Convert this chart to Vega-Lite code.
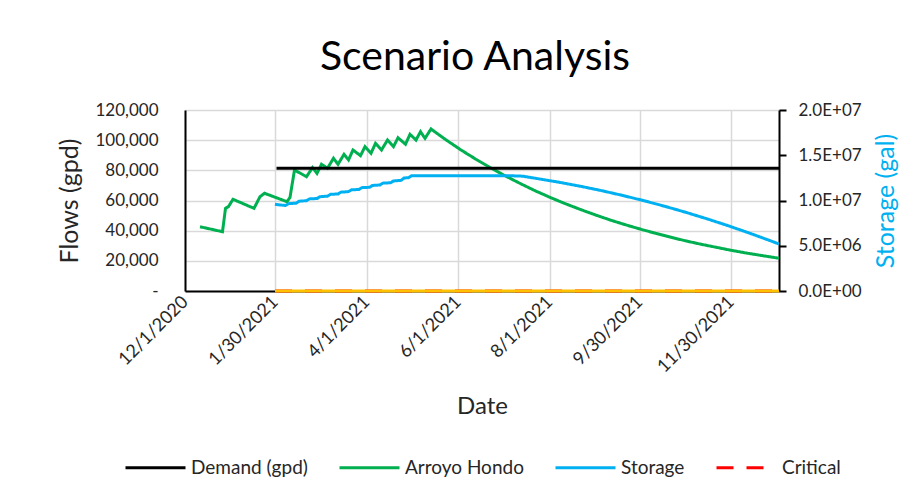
{
  "$schema": "https://vega.github.io/schema/vega-lite/v6.json",
  "autosize": "none",
  "width": 594,
  "height": 181,
  "padding": {"left": 185, "top": 110, "right": 134, "bottom": 204},
  "background": "white",
  "config": {
    "font": "Lato",
    "view": {"stroke": null},
    "axis": {"labelFont": "Lato", "titleFont": "Lato", "labelColor": "#262626", "titleColor": "#262626", "titleFontWeight": "normal", "labelFontSize": 17, "titleFontSize": 24},
    "legend": {"labelFont": "Lato"}
  },
  "title": {"text": "Scenario Analysis", "fontSize": 41, "fontWeight": "normal", "font": "Lato", "color": "#000000", "anchor": "middle", "offset": 22, "dx": -7},
  "datasets": {
    "series": [
      {"series": "Arroyo Hondo", "date": "2020-12-11", "value": 42600},
      {"series": "Arroyo Hondo", "date": "2020-12-26", "value": 39300},
      {"series": "Arroyo Hondo", "date": "2020-12-28", "value": 54800},
      {"series": "Arroyo Hondo", "date": "2020-12-30", "value": 56000},
      {"series": "Arroyo Hondo", "date": "2021-01-02", "value": 60800},
      {"series": "Arroyo Hondo", "date": "2021-01-16", "value": 54800},
      {"series": "Arroyo Hondo", "date": "2021-01-20", "value": 62500},
      {"series": "Arroyo Hondo", "date": "2021-01-23", "value": 64800},
      {"series": "Arroyo Hondo", "date": "2021-02-07", "value": 59200},
      {"series": "Arroyo Hondo", "date": "2021-02-09", "value": 62100},
      {"series": "Arroyo Hondo", "date": "2021-02-12", "value": 80200},
      {"series": "Arroyo Hondo", "date": "2021-02-20", "value": 75800},
      {"series": "Arroyo Hondo", "date": "2021-02-24", "value": 81800},
      {"series": "Arroyo Hondo", "date": "2021-02-27", "value": 78000},
      {"series": "Arroyo Hondo", "date": "2021-03-02", "value": 84000},
      {"series": "Arroyo Hondo", "date": "2021-03-06", "value": 81400},
      {"series": "Arroyo Hondo", "date": "2021-03-10", "value": 88000},
      {"series": "Arroyo Hondo", "date": "2021-03-13", "value": 84000},
      {"series": "Arroyo Hondo", "date": "2021-03-17", "value": 90600},
      {"series": "Arroyo Hondo", "date": "2021-03-20", "value": 86900},
      {"series": "Arroyo Hondo", "date": "2021-03-23", "value": 93500},
      {"series": "Arroyo Hondo", "date": "2021-03-28", "value": 89700},
      {"series": "Arroyo Hondo", "date": "2021-03-31", "value": 95700},
      {"series": "Arroyo Hondo", "date": "2021-04-04", "value": 91300},
      {"series": "Arroyo Hondo", "date": "2021-04-07", "value": 97900},
      {"series": "Arroyo Hondo", "date": "2021-04-11", "value": 93500},
      {"series": "Arroyo Hondo", "date": "2021-04-15", "value": 100100},
      {"series": "Arroyo Hondo", "date": "2021-04-19", "value": 95700},
      {"series": "Arroyo Hondo", "date": "2021-04-22", "value": 101600},
      {"series": "Arroyo Hondo", "date": "2021-04-27", "value": 97300},
      {"series": "Arroyo Hondo", "date": "2021-04-30", "value": 103900},
      {"series": "Arroyo Hondo", "date": "2021-05-04", "value": 100100},
      {"series": "Arroyo Hondo", "date": "2021-05-07", "value": 105600},
      {"series": "Arroyo Hondo", "date": "2021-05-10", "value": 101200},
      {"series": "Arroyo Hondo", "date": "2021-05-14", "value": 107400},
      {"series": "Arroyo Hondo", "date": "2021-05-24", "value": 100200},
      {"series": "Arroyo Hondo", "date": "2021-06-03", "value": 93500},
      {"series": "Arroyo Hondo", "date": "2021-06-13", "value": 87300},
      {"series": "Arroyo Hondo", "date": "2021-06-23", "value": 81500},
      {"series": "Arroyo Hondo", "date": "2021-07-03", "value": 76100},
      {"series": "Arroyo Hondo", "date": "2021-07-13", "value": 71000},
      {"series": "Arroyo Hondo", "date": "2021-07-23", "value": 66200},
      {"series": "Arroyo Hondo", "date": "2021-08-02", "value": 61800},
      {"series": "Arroyo Hondo", "date": "2021-08-12", "value": 57700},
      {"series": "Arroyo Hondo", "date": "2021-08-22", "value": 53900},
      {"series": "Arroyo Hondo", "date": "2021-09-01", "value": 50300},
      {"series": "Arroyo Hondo", "date": "2021-09-11", "value": 46900},
      {"series": "Arroyo Hondo", "date": "2021-09-21", "value": 43800},
      {"series": "Arroyo Hondo", "date": "2021-10-01", "value": 40900},
      {"series": "Arroyo Hondo", "date": "2021-10-11", "value": 38200},
      {"series": "Arroyo Hondo", "date": "2021-10-21", "value": 35600},
      {"series": "Arroyo Hondo", "date": "2021-10-31", "value": 33200},
      {"series": "Arroyo Hondo", "date": "2021-11-10", "value": 31000},
      {"series": "Arroyo Hondo", "date": "2021-11-20", "value": 29000},
      {"series": "Arroyo Hondo", "date": "2021-11-30", "value": 27000},
      {"series": "Arroyo Hondo", "date": "2021-12-10", "value": 25200},
      {"series": "Arroyo Hondo", "date": "2021-12-20", "value": 23600},
      {"series": "Arroyo Hondo", "date": "2022-01-01", "value": 21700},
      {"series": "Demand (gpd)", "date": "2021-01-31", "value": 81400},
      {"series": "Demand (gpd)", "date": "2022-01-01", "value": 81400},
      {"series": "Critical", "date": "2021-01-30", "value": 0},
      {"series": "Critical", "date": "2022-01-01", "value": 0}
    ],
    "storage": [
      {"series": "Storage", "date": "2021-01-30", "value": 9580000},
      {"series": "Storage", "date": "2021-02-03", "value": 9500000},
      {"series": "Storage", "date": "2021-02-06", "value": 9450000},
      {"series": "Storage", "date": "2021-02-08", "value": 9650000},
      {"series": "Storage", "date": "2021-02-13", "value": 9700000},
      {"series": "Storage", "date": "2021-02-15", "value": 9920000},
      {"series": "Storage", "date": "2021-02-20", "value": 9980000},
      {"series": "Storage", "date": "2021-02-22", "value": 10180000},
      {"series": "Storage", "date": "2021-02-27", "value": 10220000},
      {"series": "Storage", "date": "2021-03-01", "value": 10420000},
      {"series": "Storage", "date": "2021-03-06", "value": 10480000},
      {"series": "Storage", "date": "2021-03-08", "value": 10680000},
      {"series": "Storage", "date": "2021-03-13", "value": 10720000},
      {"series": "Storage", "date": "2021-03-15", "value": 10920000},
      {"series": "Storage", "date": "2021-03-20", "value": 10980000},
      {"series": "Storage", "date": "2021-03-22", "value": 11180000},
      {"series": "Storage", "date": "2021-03-27", "value": 11220000},
      {"series": "Storage", "date": "2021-03-29", "value": 11420000},
      {"series": "Storage", "date": "2021-04-03", "value": 11460000},
      {"series": "Storage", "date": "2021-04-05", "value": 11660000},
      {"series": "Storage", "date": "2021-04-10", "value": 11720000},
      {"series": "Storage", "date": "2021-04-12", "value": 11920000},
      {"series": "Storage", "date": "2021-04-17", "value": 11960000},
      {"series": "Storage", "date": "2021-04-19", "value": 12160000},
      {"series": "Storage", "date": "2021-04-24", "value": 12220000},
      {"series": "Storage", "date": "2021-04-26", "value": 12480000},
      {"series": "Storage", "date": "2021-04-29", "value": 12520000},
      {"series": "Storage", "date": "2021-05-01", "value": 12740000},
      {"series": "Storage", "date": "2021-07-05", "value": 12740000},
      {"series": "Storage", "date": "2021-07-14", "value": 12690000},
      {"series": "Storage", "date": "2021-07-25", "value": 12390000},
      {"series": "Storage", "date": "2021-08-08", "value": 12000000},
      {"series": "Storage", "date": "2021-08-22", "value": 11560000},
      {"series": "Storage", "date": "2021-09-05", "value": 11080000},
      {"series": "Storage", "date": "2021-09-19", "value": 10550000},
      {"series": "Storage", "date": "2021-10-03", "value": 9975000},
      {"series": "Storage", "date": "2021-10-17", "value": 9354000},
      {"series": "Storage", "date": "2021-10-31", "value": 8688000},
      {"series": "Storage", "date": "2021-11-14", "value": 7976000},
      {"series": "Storage", "date": "2021-11-28", "value": 7219000},
      {"series": "Storage", "date": "2021-12-12", "value": 6415000},
      {"series": "Storage", "date": "2021-12-26", "value": 5567000},
      {"series": "Storage", "date": "2022-01-01", "value": 5190000}
    ],
    "zero": [
      {"date": "2021-01-30", "value": 0},
      {"date": "2022-01-01", "value": 0}
    ]
  },
  "encoding": {
    "x": {
      "field": "date", "type": "temporal",
      "scale": {"type": "utc", "domain": [{"year": 2020, "month": 12, "date": 1, "utc": true}, {"year": 2022, "month": 1, "date": 1, "utc": true}]},
      "axis": {
        "title": "Date", "titleFontSize": 24, "titlePadding": 19,
        "format": "%-m/%-d/%Y", "labelAngle": -45, "labelAlign": "right", "labelBaseline": "middle", "labelPadding": 8, "labelFontSize": 18,
        "values": [
          {"year": 2020, "month": 12, "date": 1, "utc": true},
          {"year": 2021, "month": 1, "date": 30, "utc": true},
          {"year": 2021, "month": 4, "date": 1, "utc": true},
          {"year": 2021, "month": 6, "date": 1, "utc": true},
          {"year": 2021, "month": 8, "date": 1, "utc": true},
          {"year": 2021, "month": 9, "date": 30, "utc": true},
          {"year": 2021, "month": 11, "date": 30, "utc": true}
        ],
        "ticks": false, "grid": true, "gridColor": "#D9D9D9", "gridWidth": 1.5,
        "domainColor": "#000000", "domainWidth": 2, "labelOverlap": false, "labelFlush": false
      }
    }
  },
  "layer": [
    {
      "encoding": {
        "y": {
          "field": "value", "type": "quantitative",
          "scale": {"domain": [0, 120000], "nice": false},
          "axis": {
            "title": "Flows (gpd)", "titlePadding": 12, "orient": "left", "titleFontSize": 25,
            "values": [0, 20000, 40000, 60000, 80000, 100000, 120000],
            "labelExpr": "datum.value == 0 ? '-    ' : format(datum.value, ',')",
            "labelOverlap": false, "labelFlush": false,
            "ticks": false, "labelPadding": 27, "grid": true, "gridColor": "#D9D9D9", "gridWidth": 1.5,
            "domainColor": "#000000", "domainWidth": 2
          }
        }
      },
      "layer": [
        {
          "data": {"name": "series"},
          "mark": {"type": "line", "strokeWidth": 3},
          "encoding": {
            "color": {
              "field": "series", "type": "nominal",
              "scale": {"domain": ["Demand (gpd)", "Arroyo Hondo", "Storage", "Critical"], "range": ["#000000", "#00B050", "#00B0F0", "#FF0000"]},
              "legend": {"title": null, "orient": "none", "legendX": -61, "legendY": 326, "direction": "horizontal", "symbolType": "stroke", "symbolSize": 3600, "symbolStrokeWidth": 3, "labelFontSize": 19, "labelColor": "#262626", "labelOffset": 4, "columnPadding": 25}
            },
            "strokeDash": {
              "field": "series", "type": "nominal",
              "scale": {"domain": ["Demand (gpd)", "Arroyo Hondo", "Storage", "Critical"], "range": [[1, 0], [1, 0], [1, 0], [17, 13]]},
              "legend": {"title": null, "orient": "none", "legendX": -61, "legendY": 326, "direction": "horizontal", "symbolType": "stroke", "symbolSize": 3600, "symbolStrokeWidth": 3, "labelFontSize": 19, "labelColor": "#262626", "labelOffset": 4, "columnPadding": 25}
            }
          }
        },
        {
          "data": {"name": "zero"},
          "mark": {"type": "line", "strokeWidth": 3, "color": "#FFC000"},
          "encoding": {}
        }
      ]
    },
    {
      "data": {"name": "storage"},
      "mark": {"type": "line", "strokeWidth": 3},
      "encoding": {
        "y": {
          "field": "value", "type": "quantitative",
          "scale": {"domain": [0, 20000000], "nice": false},
          "axis": {
            "title": "Storage (gal)", "titleColor": "#00B0F0", "orient": "right", "titleAngle": -90, "titleBaseline": "top", "titlePadding": 12, "titleFontSize": 25,
            "values": [0, 5000000, 10000000, 15000000, 20000000],
            "labelExpr": "datum.value == 0 ? '0.0E+00' : datum.value < 10000000 ? format(datum.value / 1000000, '.1f') + 'E+06' : format(datum.value / 10000000, '.1f') + 'E+07'",
            "labelOverlap": false, "labelFlush": false,
            "tickSize": 7, "tickColor": "#000000", "tickWidth": 2, "labelPadding": 12, "grid": false,
            "domainColor": "#000000", "domainWidth": 2
          }
        },
        "color": {"field": "series", "type": "nominal"},
        "strokeDash": {"field": "series", "type": "nominal"}
      }
    }
  ],
  "resolve": {"scale": {"y": "independent"}}
}
